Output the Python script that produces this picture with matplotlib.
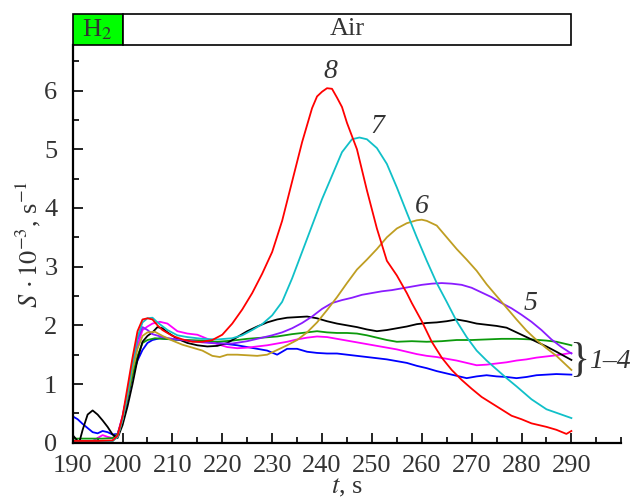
import matplotlib.pyplot as plt
from matplotlib.patches import Rectangle
from matplotlib.ticker import MultipleLocator

# curve 8 (red)
t8 = [190, 195, 198, 199, 200, 201, 202, 203, 204, 205, 206, 207, 208, 210, 212, 214, 216, 218, 220, 222,
      224, 226, 228, 230, 232, 234, 236, 238, 239, 240, 241, 242, 243, 244, 245, 247, 249, 251, 253, 255,
      257, 258, 260, 262, 264, 266, 268, 270, 272, 275, 278, 280, 282, 285, 287, 289, 290]
s8 = [0.03, 0.03, 0.04, 0.12, 0.45, 0.95, 1.45, 1.9, 2.1, 2.12, 2.1, 2.0, 1.92, 1.82, 1.76, 1.72, 1.72, 1.75, 1.84, 2.03,
      2.27, 2.55, 2.88, 3.25, 3.78, 4.45, 5.12, 5.7, 5.9, 5.98, 6.04, 6.03, 5.88, 5.72, 5.45, 5.0, 4.3, 3.65, 3.1, 2.85,
      2.55, 2.38, 2.07, 1.72, 1.45, 1.24, 1.07, 0.92, 0.78, 0.62, 0.46, 0.4, 0.33, 0.27, 0.22, 0.15, 0.2]

# curve 7 (cyan)
t7 = [190, 196, 198, 199, 200, 201, 202, 203, 204, 205, 206, 207, 209, 211, 213, 216, 219, 222, 224, 226,
      228, 230, 232, 234, 236, 238, 240, 242, 244, 246, 247.5, 249, 251, 253, 255, 257, 259, 261, 263, 265,
      267, 269, 271, 273, 275, 277, 279, 282, 285, 288, 290]
s7 = [0.02, 0.02, 0.03, 0.1, 0.4, 0.85, 1.35, 1.8, 2.05, 2.12, 2.13, 2.05, 1.92, 1.83, 1.8, 1.77, 1.76, 1.78, 1.83, 1.92,
      2.02, 2.17, 2.4, 2.8, 3.25, 3.7, 4.15, 4.55, 4.95, 5.17, 5.2, 5.17, 5.02, 4.75, 4.35, 3.92, 3.5, 3.1, 2.72, 2.4,
      2.07, 1.8, 1.57, 1.4, 1.25, 1.1, 0.96, 0.74, 0.57, 0.48, 0.42]

# curve 6 (olive)
t6 = [190, 196, 198, 199, 200, 201, 202, 203, 204, 205, 206.5, 208, 210, 212, 214, 216, 218, 219.5, 221, 223,
      225, 227, 229, 231, 233, 235, 237, 239, 241, 243, 245, 247, 249, 251, 253, 255, 257, 259, 260, 261,
      263, 265, 267, 269, 271, 273, 275, 277, 279, 281, 283, 285, 287, 290]
s6 = [0.02, 0.02, 0.03, 0.1, 0.4, 0.8, 1.25, 1.6, 1.82, 1.88, 1.89, 1.82, 1.74, 1.67, 1.62, 1.57, 1.48, 1.46, 1.5, 1.5,
      1.49, 1.48, 1.5, 1.58, 1.66, 1.75, 1.88, 2.05, 2.26, 2.48, 2.72, 2.95, 3.12, 3.3, 3.5, 3.65, 3.74, 3.79, 3.8, 3.78,
      3.7, 3.5, 3.3, 3.12, 2.93, 2.7, 2.5, 2.3, 2.1, 1.91, 1.75, 1.61, 1.48, 1.24]

# curve 5 (violet)
t5 = [190, 196, 198, 199, 200, 201, 202, 203, 204, 205, 206, 208, 210, 213, 216, 219, 222, 225, 228, 230,
      232, 234, 236, 238, 240, 242, 244, 246, 248, 250, 252, 254, 256, 258, 260, 262, 264, 266, 268, 270,
      272, 274, 276, 278, 280, 282, 284, 286, 288, 290]
s5 = [0.02, 0.02, 0.03, 0.12, 0.45, 0.85, 1.3, 1.75, 1.97, 1.92, 1.85, 1.8, 1.77, 1.74, 1.71, 1.69, 1.69, 1.73, 1.79, 1.83,
      1.88, 1.95, 2.04, 2.15, 2.28, 2.38, 2.43, 2.47, 2.52, 2.55, 2.58, 2.6, 2.63, 2.66, 2.69, 2.71, 2.72, 2.71, 2.69, 2.64,
      2.56, 2.48, 2.38, 2.29, 2.18, 2.06, 1.92, 1.76, 1.63, 1.52]

# curves 1-4
t_blk = [190, 191.3, 192, 193, 194, 195, 196, 197, 198, 199, 200, 201, 202, 203, 204, 205, 206, 207, 208, 209,
         211, 213, 215, 217, 219, 221, 223, 225, 227, 229, 231, 233, 235, 237, 239, 241, 243, 245, 247, 249,
         251, 253, 255, 257, 259, 261, 263, 265, 267, 269, 271, 273, 275, 277, 279, 281, 283, 285, 287, 290]
s_blk = [0.13, 0.0, 0.22, 0.48, 0.55, 0.48, 0.38, 0.27, 0.14, 0.08, 0.3, 0.62, 1.0, 1.42, 1.72, 1.82, 1.88, 1.97, 1.95, 1.88,
         1.77, 1.7, 1.66, 1.64, 1.65, 1.7, 1.8, 1.9, 1.98, 2.05, 2.1, 2.13, 2.14, 2.15, 2.12, 2.07, 2.03, 2.0, 1.97, 1.93,
         1.9, 1.92, 1.95, 1.98, 2.02, 2.04, 2.05, 2.07, 2.1, 2.07, 2.03, 2.01, 1.99, 1.96, 1.88, 1.8, 1.72, 1.64, 1.55, 1.41]

t_grn = [190, 196, 198, 199, 200, 201, 202, 203, 204, 205, 206.5, 208, 210, 213, 216, 219, 222, 225, 228, 231,
         234, 237, 239, 241, 243, 245, 247, 249, 251, 253, 255, 258, 261, 264, 267, 270, 273, 276, 279, 282,
         285, 287, 289, 290]
s_grn = [0.07, 0.07, 0.08, 0.15, 0.4, 0.78, 1.15, 1.48, 1.7, 1.75, 1.78, 1.77, 1.76, 1.75, 1.74, 1.72, 1.74, 1.77, 1.79, 1.81,
         1.85, 1.88, 1.9, 1.88, 1.87, 1.87, 1.86, 1.83, 1.79, 1.75, 1.72, 1.73, 1.72, 1.73, 1.75, 1.75, 1.76, 1.77, 1.77, 1.76,
         1.74, 1.72, 1.68, 1.66]

t_mag = [190, 194, 195, 196, 197, 198, 199, 200, 201, 202, 203, 204, 205, 206, 207.5, 209, 211, 213, 215, 217,
         219, 221, 223, 225, 227, 229, 231, 233, 235, 237, 239, 241, 243, 245, 247, 249, 251, 253, 255, 257,
         259, 261, 263, 265, 267, 269, 271, 273, 275, 277, 279, 281, 283, 285, 287, 290]
s_mag = [0.03, 0.03, 0.08, 0.13, 0.1, 0.08, 0.15, 0.45, 0.85, 1.25, 1.65, 1.92, 1.98, 2.03, 2.06, 2.03, 1.9, 1.86, 1.84, 1.77,
         1.68, 1.63, 1.61, 1.62, 1.64, 1.66, 1.69, 1.72, 1.76, 1.79, 1.81, 1.8, 1.77, 1.74, 1.71, 1.68, 1.65, 1.62, 1.59, 1.55,
         1.51, 1.48, 1.46, 1.43, 1.4, 1.36, 1.32, 1.33, 1.35, 1.37, 1.4, 1.42, 1.45, 1.47, 1.49, 1.53]

t_blu = [190, 191, 192, 193, 194, 195, 196, 197, 198, 199, 200, 201, 202, 203, 204, 205, 206, 207.5, 210, 213,
         216, 219, 221, 223, 225, 227, 229, 231, 233, 235, 237, 239, 241, 243, 245, 247, 249, 251, 253, 255,
         257, 259, 261, 263, 265, 267, 269, 271, 273, 275, 277, 279, 281, 283, 285, 287, 290]
s_blu = [0.45, 0.4, 0.32, 0.25, 0.18, 0.16, 0.2, 0.18, 0.14, 0.15, 0.35, 0.75, 1.15, 1.4, 1.58, 1.7, 1.75, 1.78, 1.76, 1.74,
         1.72, 1.7, 1.68, 1.66, 1.63, 1.6, 1.57, 1.5, 1.6, 1.6, 1.55, 1.53, 1.52, 1.52, 1.5, 1.48, 1.46, 1.44, 1.42, 1.39,
         1.36, 1.31, 1.27, 1.22, 1.18, 1.14, 1.1, 1.13, 1.15, 1.13, 1.12, 1.1, 1.12, 1.15, 1.16, 1.17, 1.16]

gas_labels = ["H$_2$", "Air"]
gas_edges = [190, 200, 290]


def main():
    plt.rcParams.update({"font.family": "Liberation Serif", "mathtext.fontset": "stix", "font.size": 19})
    fig = plt.figure(figsize=(6.32, 4.98), dpi=100)
    ax = fig.add_axes([0.115, 0.111, 0.868, 0.7985])

    series = [
        (t_blu, s_blu, "#0000ff"), (t_mag, s_mag, "#ff00ff"), (t_grn, s_grn, "#0c9a0c"),
        (t_blk, s_blk, "black"), (t5, s5, "#8a1cff"), (t6, s6, "#bf9e22"),
        (t7, s7, "#10c0c8"), (t8, s8, "#ff0000"),
    ]
    for t, s, c in series:
        ax.plot(t, s, color=c, lw=1.3)

    ax.set_xlim(190, 300); ax.set_ylim(0, 6.775)
    ax.set_xticks(range(190, 291, 10)); ax.set_yticks(range(0, 7))
    ax.xaxis.set_minor_locator(MultipleLocator(5)); ax.yaxis.set_minor_locator(MultipleLocator(0.5))
    ax.tick_params(which="both", direction="in", width=1.2, colors="black", labelcolor="#333333")
    ax.tick_params(which="major", length=7, labelsize=19)
    ax.tick_params(which="minor", length=4)
    ax.tick_params(axis="x", pad=9); ax.tick_params(axis="y", pad=11)
    for side in ("top", "right"):
        ax.spines[side].set_visible(False)
    for side in ("left", "bottom"):
        ax.spines[side].set_linewidth(1.6)

    ax.set_xlabel("$t$, s", color="#333333", fontsize=19, labelpad=0)
    ax.set_ylabel(r"$S\,\cdot 10^{-3}$, s$^{-1}$", color="#333333", fontsize=19, labelpad=1)

    # gas banner above the axes
    y0 = ax.get_ylim()[1]; h = 0.535
    for i, lab in enumerate(gas_labels):
        x0, x1 = gas_edges[i], gas_edges[i+1]
        ax.add_patch(Rectangle((x0, y0), x1-x0, h, facecolor="#00ff00" if i == 0 else "white",
                               edgecolor="black", lw=1.2, clip_on=False))
        ax.text((x0+x1)/2, y0+h/2, lab, ha="center", va="center", color="#333333", fontsize=19)

    txt = dict(style="italic", ha="center", va="center", color="#333333", fontsize=20)
    ax.text(241.7, 6.32, "8", **txt)
    ax.text(251.1, 5.38, "7", **txt)
    ax.text(260.1, 4.02, "6", **txt)
    ax.text(281.9, 2.38, "5", **txt)
    ax.text(291.6, 1.39, "}", ha="center", va="center", color="#333333", fontsize=30, clip_on=False)
    ax.text(293.6, 1.39, "1–4", style="italic", ha="left", va="center", color="#333333", fontsize=20, clip_on=False)

    fig.savefig("out.png", dpi=100)
    plt.close(fig)


if __name__ == "__main__": main()
